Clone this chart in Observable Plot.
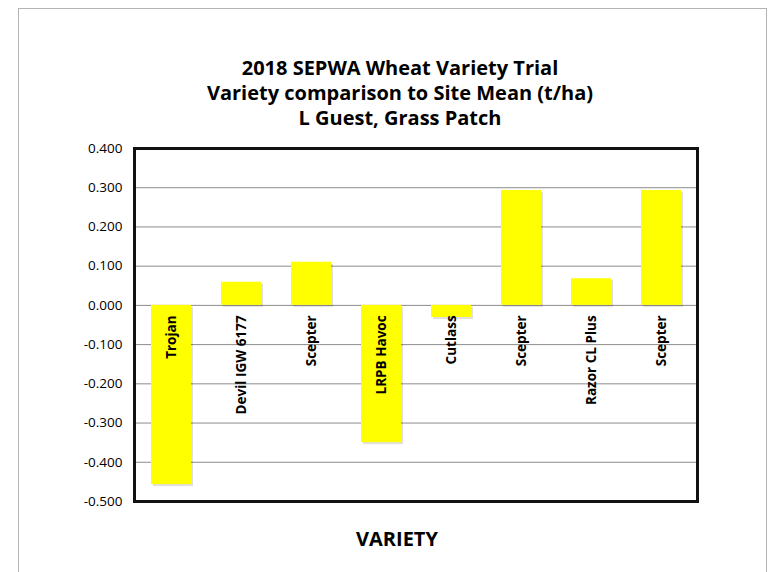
<!DOCTYPE html>
<html>
<head>
<meta charset="utf-8">
<script src="https://cdn.jsdelivr.net/npm/d3@7"></script>
<script src="https://cdn.jsdelivr.net/npm/@observablehq/plot@0.6"></script>
<style>
  html, body { margin: 0; padding: 0; background: #fff; }
  #wrap { position: relative; width: 770px; height: 572px; overflow: hidden; font-family: "Open Sans", sans-serif; }
  #border { position: absolute; left: 18px; top: 8px; width: 749px; height: 700px; border: 1px solid #b3b3b3; box-sizing: border-box; }
  #title { position: absolute; left: 150px; width: 500px; top: 55px; text-align: center; font-weight: bold; font-size: 20px; line-height: 25px; color: #000; white-space: nowrap; }
  #xtitle { position: absolute; left: 297px; width: 200px; top: 529px; text-align: center; font-weight: bold; font-size: 20px; line-height: 20px; color: #000; }
  #chart { position: absolute; left: 0; top: 0; }
</style>
</head>
<body>
<div id="wrap">
  <div id="border"></div>
  <div id="chart"></div>
  <div id="title">2018 SEPWA Wheat Variety Trial<br>Variety comparison to Site Mean (t/ha)<br>L Guest, Grass Patch</div>
  <div id="xtitle">VARIETY</div>
</div>
<script>
const varieties = ["Trojan", "Devil IGW 6177", "Scepter", "LRPB Havoc", "Cutlass", "Scepter", "Razor CL Plus", "Scepter"];
const values = [-0.457, 0.059, 0.110, -0.350, -0.031, 0.293, 0.068, 0.293];
const yTicks = [-0.5, -0.4, -0.3, -0.2, -0.1, 0, 0.1, 0.2, 0.3, 0.4];

const data = varieties.map((name, i) => ({i, name, value: values[i]}));

const chart = Plot.plot({
  width: 770,
  height: 572,
  marginLeft: 134,
  marginRight: 73,
  marginTop: 148,
  marginBottom: 71,
  style: {fontFamily: "'Open Sans', sans-serif", background: "transparent"},
  x: {type: "band", domain: d3.range(varieties.length), paddingInner: 0.43, paddingOuter: 0.215, axis: null},
  y: {domain: [-0.5, 0.4], ticks: yTicks, tickFormat: d => d.toFixed(3), tickSize: 0, tickPadding: 12, label: null},
  marks: [
    Plot.gridY(yTicks, {stroke: "#8c8c8c", strokeOpacity: 1, strokeWidth: 1}),
    Plot.barY(data, {x: "i", y: "value", fill: "#000", fillOpacity: 0.12, dx: 2, dy: 2}),
    Plot.barY(data, {x: "i", y: "value", fill: "#FFFF00"}),
    Plot.axisY(yTicks, {tickFormat: d => d.toFixed(3), tickSize: 0, tickPadding: 12, fontSize: 13.5, fill: "#000", label: null}),
    Plot.text(data, {x: "i", y: () => 0, text: "name", rotate: -90, textAnchor: "end", dy: 10, fontWeight: "bold", fontSize: 13.5, fill: "#000"}),
    Plot.frame({stroke: "#111", strokeWidth: 3})
  ]
});
document.getElementById("chart").appendChild(chart);
</script>
</body>
</html>
